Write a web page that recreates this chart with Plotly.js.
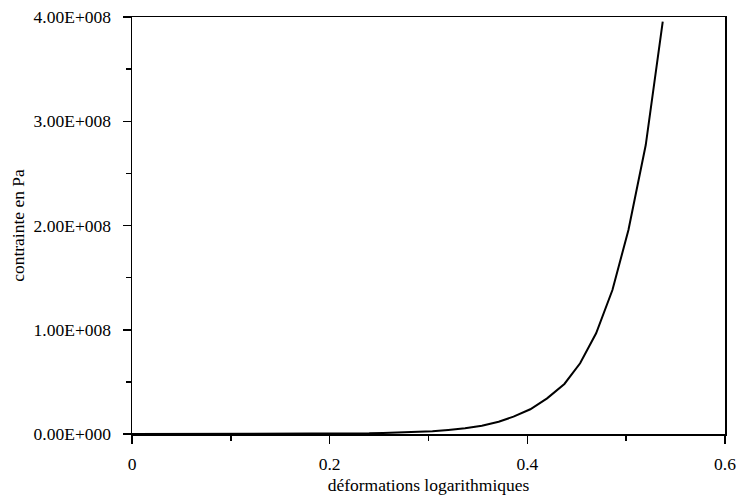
<!DOCTYPE html>
<html>
<head>
<meta charset="utf-8">
<script src="https://cdn.plot.ly/plotly-3.0.1.min.js"></script>
<style>html,body{margin:0;padding:0;background:#fff;}#chart{width:739px;height:496px;}</style>
</head>
<body>
<div id="chart"></div>
<script>
const strain = [0, 0.05, 0.10, 0.15, 0.20, 0.22, 0.24, 0.254, 0.271, 0.287, 0.304, 0.320, 0.337, 0.354, 0.371, 0.386, 0.403, 0.420, 0.4375, 0.4534, 0.4696, 0.4861, 0.5023, 0.5198, 0.537];
const stress = [0, 0.0001e8, 0.0003e8, 0.001e8, 0.003e8, 0.004e8, 0.006e8, 0.0096e8, 0.0135e8, 0.019e8, 0.027e8, 0.039e8, 0.055e8, 0.08e8, 0.118e8, 0.166e8, 0.237e8, 0.342e8, 0.48e8, 0.678e8, 0.966e8, 1.381e8, 1.957e8, 2.772e8, 3.955e8];
const yTickVals = [0, 1e8, 2e8, 3e8, 4e8];
const yTickText = ["0.00E+000", "1.00E+008", "2.00E+008", "3.00E+008", "4.00E+008"];
const xTickVals = [0, 0.2, 0.4, 0.6];
const xTickText = ["0", "0.2", "0.4", "0.6"];
const xTitle = "déformations logarithmiques";
const yTitle = "contrainte en Pa";

const font = {family: "Liberation Serif, Times New Roman, serif", size: 17.5, color: "#000"};
Plotly.newPlot("chart", [{
  x: strain, y: stress, type: "scatter", mode: "lines",
  line: {color: "#000", width: 2}, hoverinfo: "skip"
}], {
  width: 739, height: 496,
  margin: {l: 132, r: 14, t: 17, b: 62},
  paper_bgcolor: "#fff", plot_bgcolor: "#fff",
  showlegend: false,
  font: font,
  xaxis: {
    range: [0, 0.6], tickvals: xTickVals, ticktext: xTickText,
    ticks: "outside", ticklen: 8, tickwidth: 1.5, tickcolor: "#000",
    ticklabelstandoff: 5,
    minor: {dtick: 0.1, tick0: 0, ticks: "outside", ticklen: 5, tickwidth: 1.5, tickcolor: "#000", showgrid: false},
    showline: true, linecolor: "#000", linewidth: 1.5, mirror: true,
    showgrid: false, zeroline: false,
    title: {text: xTitle, font: font, standoff: 6},
    tickfont: font
  },
  yaxis: {
    range: [0, 4e8], tickvals: yTickVals, ticktext: yTickText,
    ticks: "outside", ticklen: 8, tickwidth: 1.5, tickcolor: "#000",
    ticklabelstandoff: 8,
    minor: {dtick: 0.5e8, tick0: 0, ticks: "outside", ticklen: 5, tickwidth: 1.5, tickcolor: "#000", showgrid: false},
    showline: true, linecolor: "#000", linewidth: 1.5, mirror: true,
    showgrid: false, zeroline: false,
    title: {text: yTitle, font: font, standoff: 4},
    tickfont: font
  }
}, {staticPlot: true});
</script>
</body>
</html>
